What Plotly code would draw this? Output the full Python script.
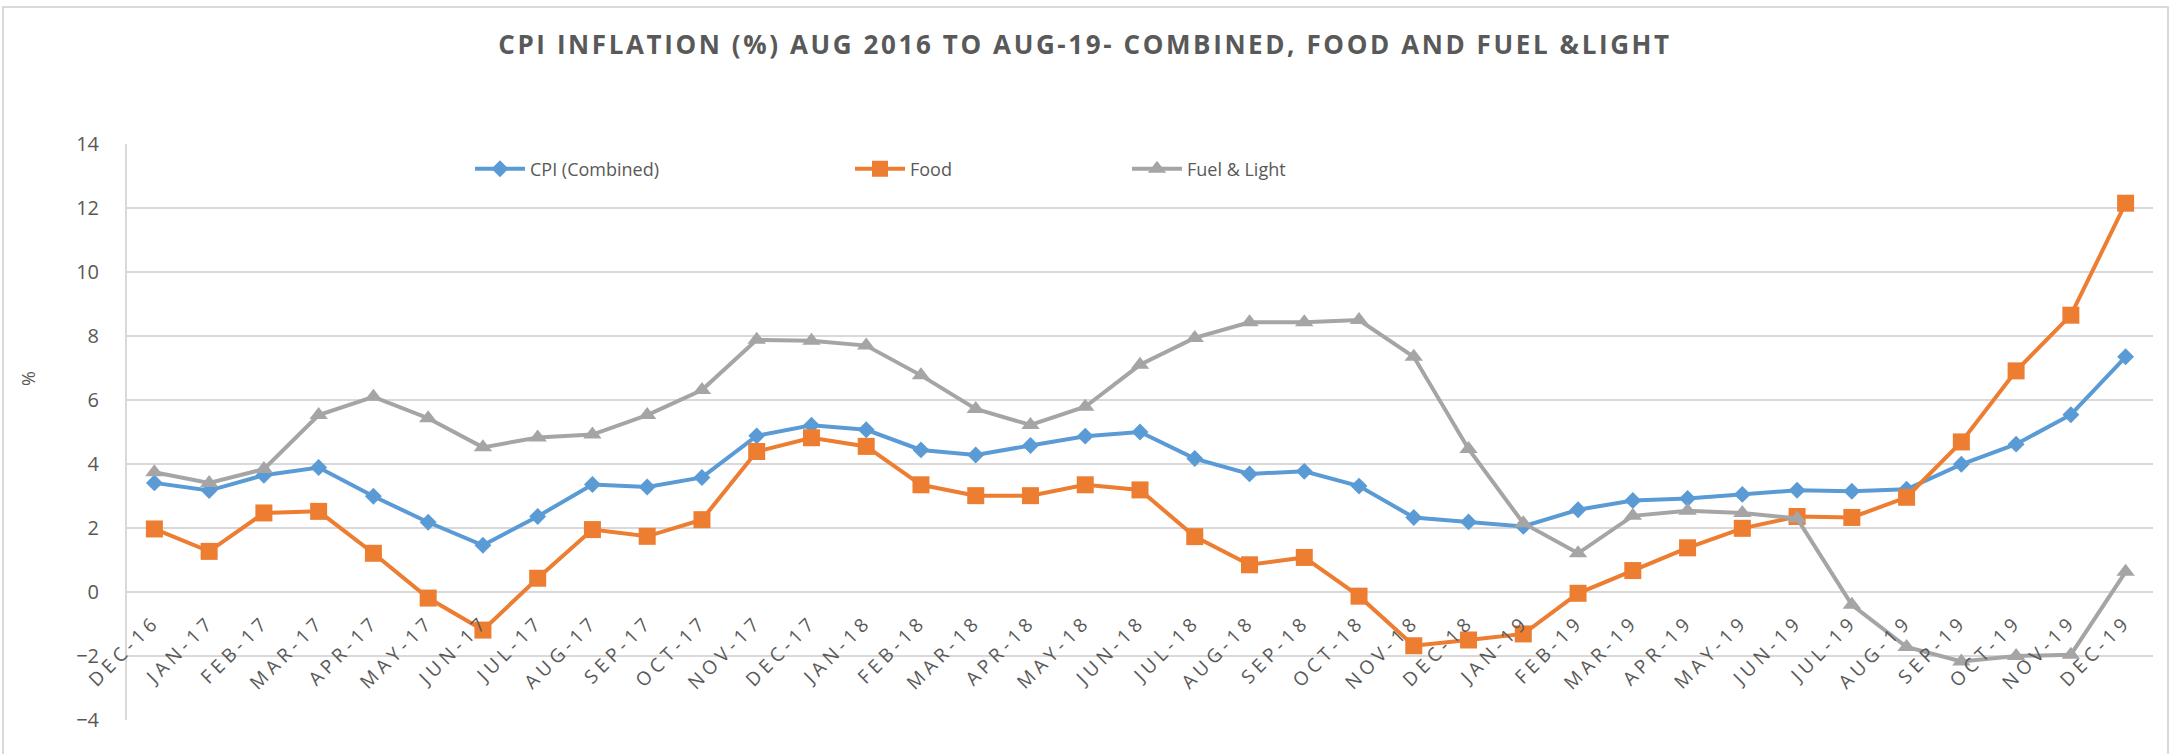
import plotly.graph_objects as go

months = ["DEC-16", "JAN-17", "FEB-17", "MAR-17", "APR-17", "MAY-17", "JUN-17", "JUL-17",
          "AUG-17", "SEP-17", "OCT-17", "NOV-17", "DEC-17", "JAN-18", "FEB-18", "MAR-18",
          "APR-18", "MAY-18", "JUN-18", "JUL-18", "AUG-18", "SEP-18", "OCT-18", "NOV-18",
          "DEC-18", "JAN-19", "FEB-19", "MAR-19", "APR-19", "MAY-19", "JUN-19", "JUL-19",
          "AUG-19", "SEP-19", "OCT-19", "NOV-19", "DEC-19"]

cpi_combined = [3.41, 3.17, 3.65, 3.89, 2.99, 2.18, 1.46, 2.36, 3.36, 3.28, 3.58, 4.88, 5.21,
                5.07, 4.44, 4.28, 4.58, 4.87, 5.00, 4.17, 3.69, 3.77, 3.31, 2.33, 2.19,
                2.05, 2.57, 2.86, 2.92, 3.05, 3.18, 3.15, 3.21, 3.99, 4.62, 5.54, 7.35]

food = [1.97, 1.27, 2.47, 2.52, 1.21, -0.19, -1.19, 0.43, 1.95, 1.74, 2.26, 4.39, 4.82,
        4.55, 3.35, 3.01, 3.01, 3.35, 3.19, 1.73, 0.85, 1.08, -0.13, -1.68, -1.50,
        -1.31, -0.04, 0.67, 1.38, 1.99, 2.36, 2.33, 2.96, 4.69, 6.91, 8.65, 12.15]

fuel_light = [3.74, 3.41, 3.84, 5.53, 6.10, 5.43, 4.52, 4.83, 4.92, 5.53, 6.31, 7.88, 7.85,
              7.70, 6.77, 5.72, 5.22, 5.79, 7.10, 7.94, 8.43, 8.43, 8.50, 7.35, 4.47,
              2.15, 1.21, 2.38, 2.54, 2.47, 2.30, -0.40, -1.72, -2.17, -2.00, -1.96, 0.63]

y_ticks = [-4, -2, 0, 2, 4, 6, 8, 10, 12, 14]

TXT = "#595959"
GRID = "#d9d9d9"
FONT = "Open Sans"

W, H = 2178, 754
L, R, T, B = 127, 25, 144, 34
pw, ph = W - L - R, H - T - B

def px_x(x):
    return (x - L) / pw

def px_y(y):
    return (H - B - y) / ph

fig = go.Figure()
series = [
    ("CPI (Combined)", cpi_combined, "#5B9BD5", "diamond", 13, "legend"),
    ("Food", food, "#ED7D31", "square", 17, "legend2"),
    ("Fuel & Light", fuel_light, "#A5A5A5", "triangle-up", 16, "legend3"),
]
for name, vals, col, sym, sz, lg in series:
    fig.add_trace(go.Scatter(
        x=months, y=vals, name=name, mode="lines+markers",
        line=dict(color=col, width=4),
        marker=dict(symbol=sym, size=sz, color=col, line=dict(width=0)),
        legend=lg,
    ))

leg_common = dict(orientation="h", yanchor="middle", xanchor="left",
                  font=dict(family=FONT, size=18, color=TXT),
                  bgcolor="rgba(0,0,0,0)", itemwidth=50)
ly = px_y(169)

month_text = ['<span style="letter-spacing:4.5px">%s</span>' % m for m in months]

fig.update_layout(
    width=W, height=H,
    margin=dict(l=L, r=R, t=T, b=B),
    paper_bgcolor="white", plot_bgcolor="white",
    title=dict(
        text='<span style="letter-spacing:2.6px">CPI INFLATION (%) AUG 2016 TO AUG-19- COMBINED, FOOD AND FUEL &LIGHT</span>',
        font=dict(family=FONT, size=26, color=TXT, weight="bold"),
        x=1085 / W, xref="container", xanchor="center",
        y=1 - 45 / H, yref="container", yanchor="middle",
    ),
    legend=dict(x=px_x(470), y=ly, **leg_common),
    legend2=dict(x=px_x(850), y=ly, **leg_common),
    legend3=dict(x=px_x(1127), y=ly, **leg_common),
    xaxis=dict(
        type="category", range=[-0.5, len(months) - 0.5],
        anchor="free", position=4 / 18,
        showgrid=False, showline=False, zeroline=False, ticks="",
        tickmode="array", tickvals=months, ticktext=month_text,
        tickangle=-45, ticklabelstandoff=14,
        tickfont=dict(family=FONT, size=19, color=TXT),
    ),
    yaxis=dict(
        range=[-4, 14], tickvals=y_ticks,
        showgrid=True, gridcolor=GRID, gridwidth=2,
        zeroline=False, showline=True, linecolor=GRID, linewidth=2,
        ticks="", ticklabelstandoff=22,
        tickfont=dict(family=FONT, size=20, color=TXT),
    ),
    showlegend=True,
)

fig.add_annotation(
    text="%", xref="paper", yref="paper", x=px_x(28), y=px_y(379),
    xanchor="center", yanchor="middle",
    showarrow=False, textangle=-90,
    font=dict(family=FONT, size=18, color=TXT),
)

fig.add_shape(
    type="rect", xref="paper", yref="paper",
    x0=px_x(3), x1=px_x(2168), y0=px_y(770), y1=px_y(7),
    line=dict(color=GRID, width=2), fillcolor="rgba(0,0,0,0)", layer="below",
)

fig.write_html("out.html", config={"displayModeBar": False},
               post_script="document.body.style.margin='0px';")
